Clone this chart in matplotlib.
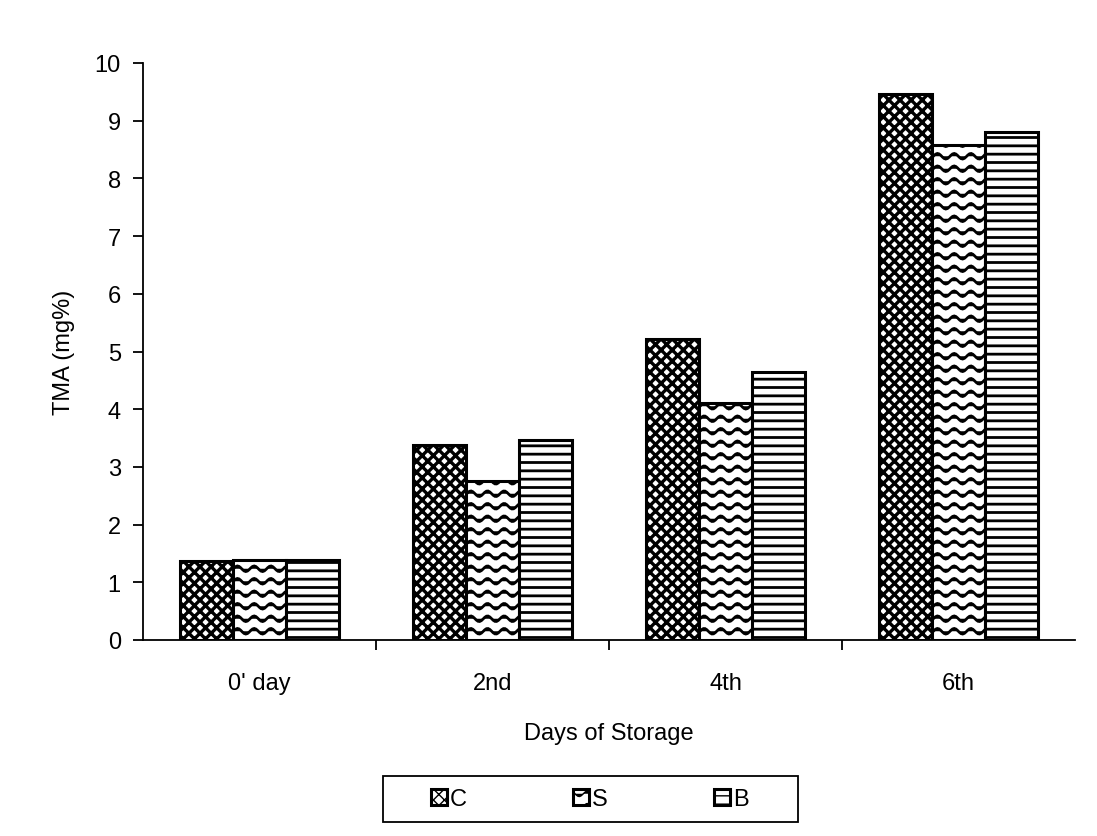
import numpy as np
import matplotlib
matplotlib.use("Agg")
import matplotlib.pyplot as plt
import matplotlib.hatch as mhatch
from matplotlib.path import Path
from matplotlib.patches import Rectangle

plt.rcParams['font.family'] = ['Liberation Sans', 'DejaVu Sans']

days = ["0' day", "2nd", "4th", "6th"]
c_vals = [1.37, 3.38, 5.22, 9.47]
s_vals = [1.38, 2.75, 4.10, 8.58]
b_vals = [1.39, 3.47, 4.65, 8.80]
series_names = ["C", "S", "B"]


class WaveHatch(mhatch.HatchPatternBase):
    # wavy horizontal lines, used for '~'
    def __init__(self, hatch, density):
        self.num_rows = hatch.count('~') * 8
        self.n_pts = 60
        self.num_vertices = self.num_rows * self.n_pts if self.num_rows else 0

    def set_vertices_and_codes(self, vertices, codes):
        t = np.linspace(0, 1, self.n_pts)
        k = 0
        for r in range(self.num_rows):
            y0 = (r + 0.5) / self.num_rows
            vertices[k:k + self.n_pts, 0] = t
            vertices[k:k + self.n_pts, 1] = y0 + 0.028 * np.sin(2 * np.pi * 6 * t)
            codes[k] = Path.MOVETO
            codes[k + 1:k + self.n_pts] = Path.LINETO
            k += self.n_pts


mhatch._hatch_types.append(WaveHatch)

fig = plt.figure(figsize=(10.97, 8.37), dpi=100)
ax = fig.add_axes([143 / 1097, 1 - 641 / 837, (1075 - 143) / 1097, (641 - 64) / 837])

x = np.arange(len(days))
w = 0.228
hatches = ["xxx", "~", "--"]
hatch_lw = [2.4, 2.0, 2.0]
for i, vals in enumerate([c_vals, s_vals, b_vals]):
    with plt.rc_context({'hatch.linewidth': hatch_lw[i]}):
        ax.bar(x + (i - 1) * w, vals, w, facecolor="white", edgecolor="black",
               hatch=hatches[i], linewidth=2.2, label=series_names[i])

ax.set_xlim(-0.5, 3.5)
ax.set_ylim(0, 10)
ax.set_yticks(range(0, 11))
ax.tick_params(axis='y', labelsize=17, direction='out', length=7, width=1.3, pad=9)
ax.set_xticks(x)
ax.set_xticklabels(days)
ax.set_xticks([0.5, 1.5, 2.5], minor=True)
ax.tick_params(axis='x', which='major', length=0, labelsize=17, pad=23)
ax.tick_params(axis='x', which='minor', length=7, width=1.3)
for side in ['top', 'right']:
    ax.spines[side].set_visible(False)
for side in ['left', 'bottom']:
    ax.spines[side].set_linewidth(1.3)

ax.set_xlabel("Days of Storage", fontsize=17, labelpad=20)
ax.set_ylabel("TMA (mg%)", fontsize=17, labelpad=14)

leg = fig.legend(loc='center', bbox_to_anchor=(590 / 1097, 1 - 800 / 837), ncol=3,
                 fontsize=17, frameon=False,
                 handlelength=0.65, handleheight=0.65, handletextpad=0.15,
                 columnspacing=4.5, borderpad=0.3)
fig.patches.append(Rectangle((383 / 1097, 1 - 823 / 837), 415 / 1097, 46 / 837,
                             transform=fig.transFigure, facecolor='none',
                             edgecolor='black', linewidth=1.3))

fig.savefig("out.png", dpi=100)
